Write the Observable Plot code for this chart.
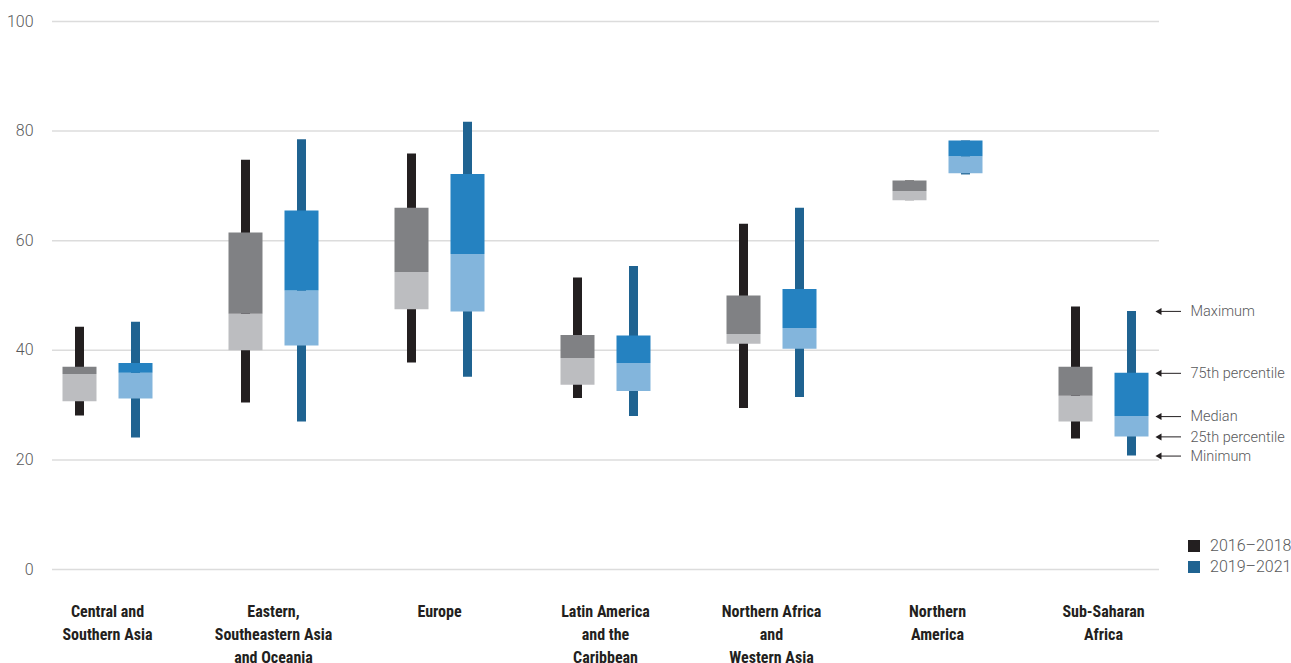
<!DOCTYPE html>
<html>
<head>
<meta charset="utf-8">
<script src="https://cdn.jsdelivr.net/npm/d3@7"></script>
<script src="https://cdn.jsdelivr.net/npm/@observablehq/plot@0.6"></script>
<style>
  html, body { margin: 0; padding: 0; background: #fff; }
  #wrap { position: relative; width: 1291px; height: 663px; }
  #legend { position: absolute; left: 1188px; top: 535px; font-family: Roboto, "Open Sans", sans-serif; font-weight: 300; font-size: 16px; color: #58595b; line-height: 21px; }
  #legend .item { display: flex; align-items: center; white-space: nowrap; }
  #legend .sw { width: 12px; height: 12px; margin-right: 10px; display: inline-block; }
</style>
</head>
<body>
<div id="wrap"><div id="chart"></div><div id="legend"></div></div>
<script>
// ---- data ----
const categories = ["Central and Southern Asia", "Eastern, Southeastern Asia and Oceania", "Europe", "Latin America and the Caribbean", "Northern Africa and Western Asia", "Northern America", "Sub-Saharan Africa"];
const categoryLabels = ["Central and\nSouthern Asia", "Eastern,\nSoutheastern Asia\nand Oceania", "Europe", "Latin America\nand the\nCaribbean", "Northern Africa\nand\nWestern Asia", "Northern\nAmerica", "Sub-Saharan\nAfrica"];
const periods = ["2016–2018", "2019–2021"];

// 2016–2018
const min1 = [28.0, 30.4, 37.7, 31.2, 29.4, 67.3, 23.8];
const q1_1 = [30.6, 39.9, 47.4, 33.6, 41.1, 67.3, 26.9];
const med1 = [35.6, 46.6, 54.2, 38.5, 42.9, 69.0, 31.6];
const q3_1 = [36.9, 61.4, 65.9, 42.7, 49.9, 70.9, 36.9];
const max1 = [44.2, 74.7, 75.8, 53.2, 63.0, 70.9, 47.9];
// 2019–2021
const min2 = [24.0, 26.9, 35.1, 27.9, 31.4, 72.0, 20.7];
const q1_2 = [31.1, 40.8, 47.0, 32.5, 40.2, 72.2, 24.2];
const med2 = [35.8, 50.8, 57.5, 37.6, 44.0, 75.3, 27.9];
const q3_2 = [37.6, 65.4, 72.1, 42.6, 51.1, 78.2, 35.8];
const max2 = [45.1, 78.4, 81.6, 55.3, 65.9, 78.2, 47.1];

const yTicks = [0, 20, 40, 60, 80, 100];
const annotationLabels = ["Maximum", "75th percentile", "Median", "25th percentile", "Minimum"];
const annotatedCategory = "Sub-Saharan Africa";

// ---- styles ----
const colors = {
  "2016–2018": {whisker: "#231f20", upper: "#808184", lower: "#bcbdc0"},
  "2019–2021": {whisker: "#1f6391", upper: "#2582c1", lower: "#83b5dc"}
};
const offsets = {"2016–2018": -28, "2019–2021": 28};

// ---- build table ----
const stats = [[min1, q1_1, med1, q3_1, max1], [min2, q1_2, med2, q3_2, max2]];
const rows = [];
periods.forEach((p, pi) => {
  categories.forEach((c, ci) => {
    const [mn, q1, md, q3, mx] = stats[pi].map(a => a[ci]);
    rows.push({category: c, period: p, min: mn, q1, median: md, q3, max: mx});
  });
});
const labelRows = categories.map((c, i) => ({category: c, label: categoryLabels[i]}));
const annRow = rows.find(r => r.category === annotatedCategory && r.period === periods[1]);
const annRows = [annRow.max, annRow.q3, annRow.median, annRow.q1, annRow.min].map((v, i) => ({category: annotatedCategory, value: v, label: annotationLabels[i]}));

const marks = [
  Plot.ruleY(yTicks, {stroke: "#dcdcdc", strokeWidth: 1.5})
];
for (const p of periods) {
  const d = rows.filter(r => r.period === p);
  const c = colors[p];
  const dx = offsets[p];
  marks.push(
    Plot.ruleX(d, {x: "category", y1: "min", y2: "max", stroke: c.whisker, strokeWidth: 9, dx}),
    Plot.ruleX(d, {x: "category", y1: "q1", y2: "median", stroke: c.lower, strokeWidth: 34, dx}),
    Plot.ruleX(d, {x: "category", y1: "median", y2: "q3", stroke: c.upper, strokeWidth: 34, dx})
  );
}
marks.push(
  Plot.tickY(annRows, {x: "category", y: "value", stroke: "#231f20", strokeWidth: 1, insetLeft: 139, insetRight: 5}),
  Plot.dot(annRows, {x: "category", y: "value", symbol: "triangle", r: 2.6, rotate: -90, fill: "#231f20", stroke: null, dx: 56}),
  Plot.text(annRows, {x: "category", y: "value", text: "label", dx: 87, textAnchor: "start", fontSize: 14.5, fontWeight: 300, fill: "#58595b", fontFamily: "Roboto, sans-serif"}),
  Plot.text(labelRows, {x: "category", text: "label", frameAnchor: "bottom", lineAnchor: "top", dy: 31, lineHeight: 1.44, fontSize: 16, fontWeight: "bold", fill: "#231f20", fontFamily: "'Liberation Sans Narrow', 'Roboto Condensed', Roboto, sans-serif"})
);

const chart = Plot.plot({
  width: 1291,
  height: 663,
  marginTop: 21,
  marginBottom: 94,
  marginLeft: 52,
  marginRight: 132,
  style: {fontFamily: "Roboto, 'Open Sans', sans-serif", fontSize: "16px", color: "#58595b", fontWeight: 300, background: "#fff", overflow: "visible"},
  x: {type: "band", domain: categories, range: [24, 1186], padding: 0, axis: null},
  y: {domain: [0, 100], ticks: yTicks, tickSize: 0, tickPadding: 19, label: null},
  marks
});
document.getElementById("chart").appendChild(chart);

const legend = document.getElementById("legend");
for (const p of periods) {
  const item = document.createElement("div");
  item.className = "item";
  const sw = document.createElement("span");
  sw.className = "sw";
  sw.style.background = colors[p].whisker;
  item.appendChild(sw);
  item.appendChild(document.createTextNode(p));
  legend.appendChild(item);
}
</script>
</body>
</html>
